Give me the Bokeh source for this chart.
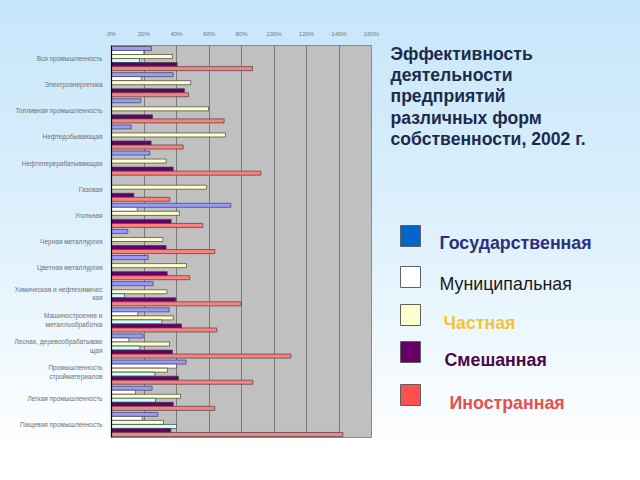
import numpy as np
from bokeh.plotting import figure
from bokeh.models import (ColumnDataSource, FactorRange, Range1d, PrintfTickFormatter,
                          Label, FixedTicker)
from bokeh.transform import dodge
from bokeh.layouts import row
from bokeh.embed import file_html
from bokeh.resources import INLINE

nan = np.nan

categories = [
    "Вся промышленность",
    "Электроэнергетика",
    "Топливная промышленность",
    "Нефтедобывающая",
    "Нефтеперерабатывающая",
    "Газовая",
    "Угольная",
    "Черная металлургия",
    "Цветная металлургия",
    "Химическая и нефтехимичес\nкая",
    "Машиностроение и\nметаллообработка",
    "Лесная, деревообрабатываю\nщая",
    "Промышленность\nстройматериалов",
    "Легкая промышленность",
    "Пищевая промышленность",
]

state = [24.6, 38.0, 18.0, 12.1, 23.6, nan, 73.4, 10.0, 22.6, 25.6, 35.5, 19.5, 45.9, 25.0, 28.5]
municipal = [19.9, 18.3, nan, nan, nan, nan, 15.8, nan, nan, nan, 16.2, 10.7, 40.0, 14.8, 18.9]
private = [37.5, 48.8, 59.7, 70.2, 33.6, 58.5, 41.8, 31.6, 46.2, 34.1, 38.0, 35.7, 34.5, 42.5, 32.0]
other = [17.2, nan, nan, nan, nan, nan, nan, nan, nan, 8.0, 31.0, 17.4, 26.7, 27.1, 40.0]
mixed = [40.4, 44.9, 25.2, 24.4, 38.0, 13.7, 36.7, 33.6, 34.3, 39.6, 43.1, 37.5, 41.2, 38.0, 36.5]
foreign = [86.8, 47.4, 69.3, 44.1, 91.9, 35.9, 56.2, 63.6, 48.2, 79.8, 64.8, 110.4, 87.0, 63.6, 142.4]

x_ticks = [0, 20, 40, 60, 80, 100, 120, 140, 160]

title_lines = ["Эффективность", "деятельности", "предприятий",
               "различных форм", "собственности, 2002 г."]
legend_names = ["Государственная", "Муниципальная", "Частная", "Смешанная", "Иностранная"]

src = ColumnDataSource(dict(
    cat=categories,
    state=np.array(state, dtype=float),
    municipal=np.array(municipal, dtype=float),
    private=np.array(private, dtype=float),
    other=np.array(other, dtype=float),
    mixed=np.array(mixed, dtype=float),
    foreign=np.array(foreign, dtype=float),
))

p = figure(width=383, height=480,
           y_range=FactorRange(factors=list(reversed(categories))),
           x_range=Range1d(0, 160),
           x_axis_location="above",
           output_backend="svg", toolbar_location=None,
           min_border_left=111, min_border_right=12,
           min_border_top=45, min_border_bottom=43)

p.background_fill_color = "#C0C0C0"
p.border_fill_color = None
p.outline_line_color = "#8a8a8a"

p.xgrid.grid_line_color = "#7a7a7a"
p.xgrid.grid_line_width = 1
p.ygrid.grid_line_color = None

p.xaxis.ticker = FixedTicker(ticks=x_ticks)
p.xaxis.formatter = PrintfTickFormatter(format="%d%%")
p.xaxis.major_label_text_font_size = "6px"
p.xaxis.major_label_text_color = "#777777"
p.xaxis.axis_line_color = None
p.xaxis.major_tick_line_color = None
p.xaxis.minor_tick_line_color = None
p.xaxis.major_label_standoff = 3

p.yaxis.axis_line_color = "#000000"
p.yaxis.axis_line_width = 1.2
p.yaxis.major_tick_line_color = None
p.yaxis.major_label_text_font_size = "6.5px"
p.yaxis.major_label_text_color = "#707070"
p.yaxis.major_label_standoff = 3

series = [
    ("state", "#9999FF", 0.385),
    ("municipal", "#FFFFFF", 0.231),
    ("private", "#FFFFCC", 0.077),
    ("other", "#CCFFFF", -0.077),
    ("mixed", "#660066", -0.231),
    ("foreign", "#FF8080", -0.385),
]
for col, color, off in series:
    p.hbar(y=dodge("cat", off, range=p.y_range), left=0, right=col, height=0.154,
           fill_color=color, line_color="#404040", line_width=0.7, source=src)

# side panel with title and legend (pixel-like coordinates, frame aligned with chart frame)
p2 = figure(width=257, height=480, x_range=Range1d(383, 640), y_range=Range1d(437, 45),
            output_backend="svg", toolbar_location=None,
            min_border_left=0, min_border_right=0,
            min_border_top=45, min_border_bottom=43)
p2.axis.visible = False
p2.grid.visible = False
p2.outline_line_color = None
p2.background_fill_color = None
p2.border_fill_color = None

FONT = "Liberation Sans"
title_base = [53, 74.4, 95.8, 117.1, 138.5]
for t, yb in zip(title_lines, title_base):
    p2.add_layout(Label(x=390, y=yb, text=t, text_font=FONT,
                        text_font_style="bold", text_font_size="17.6px",
                        text_color="#1C2B4C", text_baseline="alphabetic"))

sw_top = [225, 266, 304, 341, 384]
sw_colors = ["#0066CC", "#FFFFFF", "#FFFFCC", "#660066", "#FF5050"]
p2.quad(left=400, right=420, top=sw_top, bottom=[t + 21 for t in sw_top],
        fill_color=sw_colors, line_color="#606060", line_width=1)

lab_x = [439, 439, 443, 444, 449]
lab_y = [242, 283, 322, 359, 402]
lab_col = ["#2B2F7C", "#1A1A1A", "#F2C630", "#4A0848", "#E84E4E"]
lab_style = ["bold", "normal", "bold", "bold", "bold"]
for name, lx, ly, lc, ls in zip(legend_names, lab_x, lab_y, lab_col, lab_style):
    p2.add_layout(Label(x=lx, y=ly, text=name, text_font=FONT,
                        text_font_style=ls, text_font_size="17.8px",
                        text_color=lc, text_baseline="alphabetic"))

layout = row(p, p2, styles={"background": "linear-gradient(to bottom, #c6e6fa 0%, #dff1fc 50%, #ffffff 93%)"})

open("out.html", "w").write(file_html(layout, INLINE))
